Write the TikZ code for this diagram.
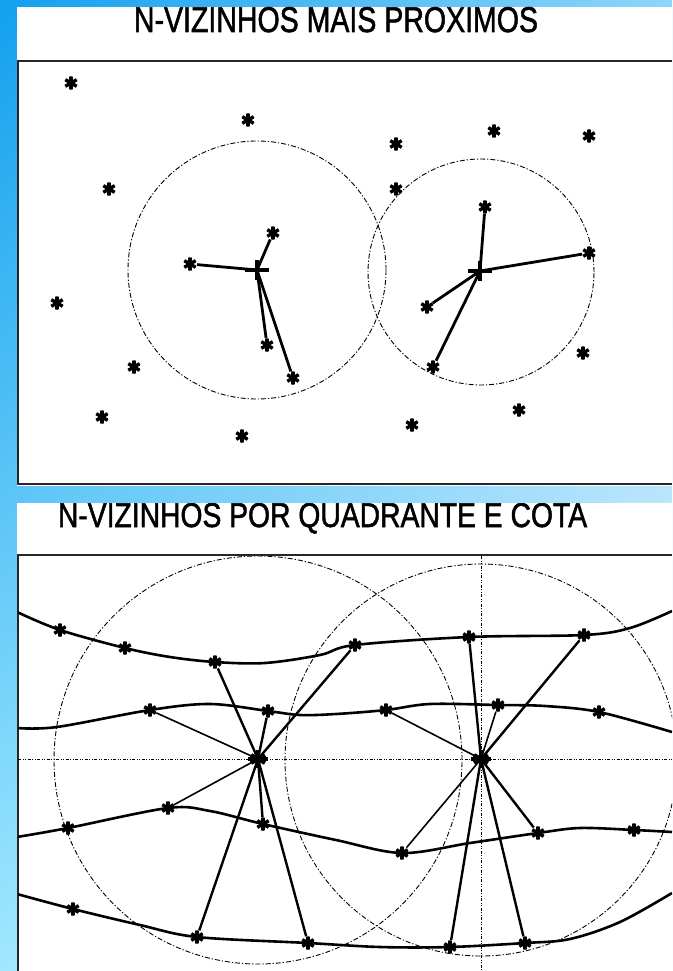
\documentclass[tikz,border=0pt]{standalone}
\usepackage{fontspec}
\newfontfamily\tfont[FakeBold=1.6]{Liberation Sans}
\usetikzlibrary{shadings}
\definecolor{bgUL}{HTML}{12A0EE}
\definecolor{bgUR}{HTML}{8ED6FA}
\definecolor{bgLL}{HTML}{A0E8FF}
\definecolor{bgLR}{HTML}{E6F5FF}
\begin{document}
\begin{tikzpicture}[x=1pt,y=-1pt,
 ast/.style={circle,inner sep=0pt,minimum size=13.5pt,path picture={\foreach \a in {90,30,-30}{\draw[line width=3.4pt,shift={(path picture bounding box.center)}] (\a:8pt)--(\a+180:8pt);}}},
 hub/.style={circle,inner sep=0pt,minimum size=4pt},
 plotframe/.style={line width=1.8pt,draw=black!85},
 circ/.style={line width=0.9pt,dash pattern=on 5pt off 2pt on 1.2pt off 2pt},
 crossline/.style={line width=0.9pt,dash pattern=on 3pt off 1.5pt on 1pt off 1.5pt on 1pt off 1.5pt},
 nb/.style={line width=2.8pt},
 nq/.style={line width=2.4pt},
 nt/.style={line width=1.6pt},
 cota/.style={line width=2.6pt,line join=round},
 ttl/.style={anchor=base,inner sep=0pt,font=\tfont}
]
\useasboundingbox (0,0) rectangle (672,971);
\shade[upper left=bgUL,upper right=bgUR,lower left=bgLL,lower right=bgLR] (0,0) rectangle (672,971);
\begin{scope}
\clip (17,7) rectangle (672,486);
\fill[white] (17,7) rectangle (672,486);
\node[ttl] (t1) at (336,32) {\resizebox{404pt}{25pt}{N-VIZINHOS MAIS PROXIMOS}};
\end{scope}
\begin{scope}
\clip (17,503) rectangle (672,971);
\fill[white] (17,503) rectangle (672,971);
\node[ttl] (t2) at (322.5,527) {\resizebox{529pt}{24pt}{N-VIZINHOS POR QUADRANTE E COTA}};
\end{scope}
\draw[plotframe] (672,61) -- (18,61) -- (18,484) -- (672,484);
\draw[plotframe] (672,555) -- (18,555) -- (18,971);

% ---------- top plot ----------
\draw[circ] (257,270) circle[radius=129pt];
\draw[circ] (481,272) circle[radius=113pt];
\foreach \n/\x/\y in {p1/71/83,p2/248/120,p3/109/189,p4/396/144,p5/494/131,p6/589/136,p7/396/189,p8/57/303,p9/134/367,p10/102/417,p11/242/436,p12/583/353,p13/519/410,p14/412/425,n11/190/264,n12/273/233,n13/267/345,n14/293/378,n21/485/207,n22/589/253,n23/427/307,n24/433/367}
  \node[ast] (\n) at (\x,\y) {};
\node[hub] (c1) at (257,270) {};
\node[hub] (c2) at (480,271) {};
\foreach \m in {n11,n12,n13,n14} \draw[nb] (c1) -- (\m);
\foreach \m in {n21,n22,n23,n24} \draw[nb] (c2) -- (\m);
\foreach \c in {c1,c2}
  \draw[line width=4.5pt] ([xshift=-12pt]\c.center) -- ([xshift=12pt]\c.center) ([yshift=-10pt]\c.center) -- ([yshift=10pt]\c.center);

% ---------- bottom plot ----------
\begin{scope}
\clip (18,556) rectangle (672,971);
\coordinate (hl) at (18,759); \coordinate (hr) at (672,759);
\coordinate (vt) at (481,556); \coordinate (vb) at (481,971);
\draw[crossline] (hl) -- (hr);
\draw[crossline] (vt) -- (vb);
\draw[circ] (258,760) circle[radius=204pt];
\draw[circ] (481,760) circle[radius=196pt];
\foreach \n/\x/\y in {a1/60/630,a2/125/648,a3/215/662,a4/355/645,a5/469/637,a6/584/635,b1/150/710,b2/268/711,b3/386/710,b4/498/705,b5/599/712,c1/68/828,c2/168/808,c3/263/824,c4/402/853,c5/538/833,c6/634/830,d1/73/909,d2/197/937,d3/308/943,d4/450/947,d5/525/943}
  \node[ast] (\n) at (\x,\y) {};
\coordinate (A0) at (17,612); \coordinate (A9) at (672,611);
\coordinate (B0) at (17,728); \coordinate (B9) at (672,732);
\coordinate (C0) at (17,837); \coordinate (C9) at (672,832);
\coordinate (D0) at (17,894); \coordinate (D9) at (672,893);
\draw[cota] plot[smooth,tension=0.55] coordinates {(A0) (a1.center) (a2.center) (170,657) (a3.center) (265,663) (320,655) (a4.center) (a5.center) (a6.center) (630,628) (A9)};
\draw[cota] plot[smooth,tension=0.55] coordinates {(B0) (57,727) (b1.center) (210,704) (b2.center) (300,715) (336,714) (b3.center) (430,704) (b4.center) (545,706) (b5.center) (B9)};
\draw[cota] plot[smooth,tension=0.55] coordinates {(C0) (c1.center) (c2.center) (210,811) (c3.center) (336,840) (c4.center) (470,843) (c5.center) (580,828) (c6.center) (C9)};
\draw[cota] plot[smooth,tension=0.55] coordinates {(D0) (d1.center) (140,925) (d2.center) (d3.center) (380,947) (d4.center) (d5.center) (570,939) (620,922) (D9)};
\node[hub] (L) at (258,759) {};
\node[hub] (R) at (481,759) {};
\foreach \m in {a3,b2,a4,c3,d2,d3} \draw[nq] (L) -- (\m);
\foreach \m in {b1,c2} \draw[nt] (L) -- (\m);
\foreach \m in {a5,d4,d5,c5,a6} \draw[nq] (R) -- (\m);
\foreach \m in {b3,b4,c4} \draw[nt] (R) -- (\m);
\foreach \c in {L,R}{
  \draw[line width=4.5pt] ([xshift=-10pt]\c.center) -- ([xshift=10pt]\c.center) ([yshift=-9pt]\c.center) -- ([yshift=9pt]\c.center);
  \foreach \a in {30,-30} \draw[line width=4pt] ([shift={(\a:8pt)}]\c.center) -- ([shift={(\a+180:8pt)}]\c.center);
}
\end{scope}
\end{tikzpicture}
\end{document}
